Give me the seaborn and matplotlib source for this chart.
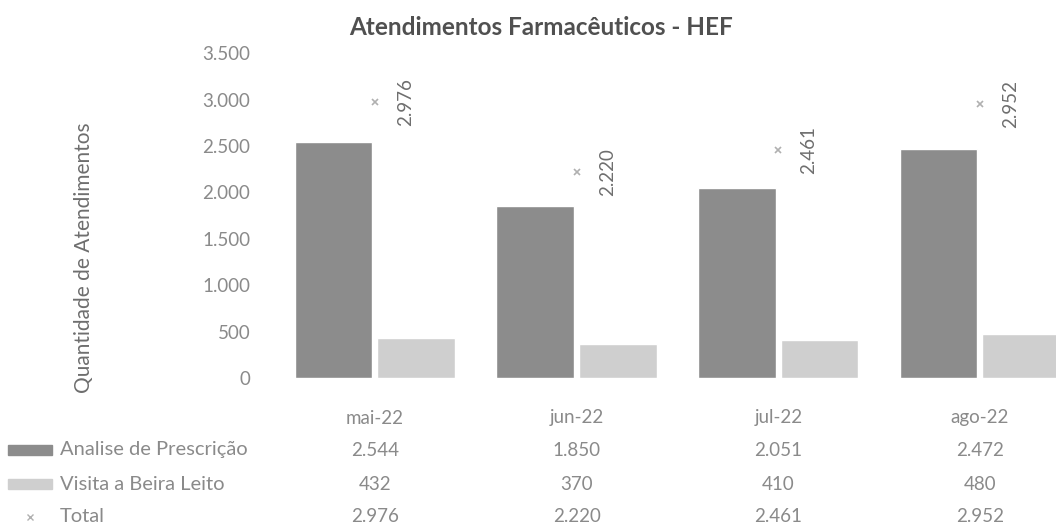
import matplotlib.pyplot as plt
import matplotlib.patches as mpatches
import matplotlib.transforms as mtransforms
import pandas as pd
import seaborn as sns

# Dados do gráfico
meses = ['mai-22', 'jun-22', 'jul-22', 'ago-22']
analise_prescricao = [2544, 1850, 2051, 2472]
visita_beira_leito = [432, 370, 410, 480]
total = [2976, 2220, 2461, 2952]
series = ['Analise de Prescrição', 'Visita a Beira Leito']
yticks = [0, 500, 1000, 1500, 2000, 2500, 3000, 3500]

cor_analise = '#8c8c8c'
cor_visita = '#cfcfcf'
cor_texto = '#8a8a8a'


def fmt(v):
    return f'{v:,}'.replace(',', '.')


sns.set_style('white')
plt.rcParams['font.family'] = ['Lato', 'DejaVu Sans']

df = pd.DataFrame({
    'mes': meses * 2,
    'serie': [series[0]] * 4 + [series[1]] * 4,
    'valor': analise_prescricao + visita_beira_leito,
})

fig = plt.figure(figsize=(10.56, 5.31), dpi=100)
ax = fig.add_axes([0.2595, 0.288, 0.764, 0.612])

sns.barplot(data=df, x='mes', y='valor', hue='serie', hue_order=series,
            palette=[cor_analise, cor_visita], width=0.82, gap=0.06,
            legend=False, ax=ax)
sns.pointplot(x=meses, y=total, linestyle='none', marker='x',
              markersize=4, markeredgewidth=1.2, color='#b0b0b0', ax=ax)

for i, v in enumerate(total):
    ax.annotate(fmt(v), (i, v), xytext=(22, 0),
                textcoords='offset points', rotation=90, ha='center',
                va='center', fontsize=13.5, color='#6e6e6e')

ax.set_ylim(0, 3500)
ax.set_xlim(-0.5, 3.5)
ax.set_yticks(yticks)
ax.set_yticklabels([fmt(t) for t in yticks], fontsize=13.5, color=cor_texto)
ax.tick_params(axis='y', length=0, pad=17)
ax.set_xticks([])
ax.set_xlabel('')
ax.set_ylabel('')
sns.despine(ax=ax, left=True, bottom=True)

fig.text(0.080, 0.515, 'Quantidade de Atendimentos', rotation=90,
         ha='center', va='center', fontsize=15, color='#6e6e6e')
fig.text(0.512, 0.949, 'Atendimentos Farmacêuticos - HEF', ha='center',
         va='center', fontsize=17.5, fontweight='bold', color='#505050')

# Tabela de dados (colunas alinhadas com as categorias)
trans = mtransforms.blended_transform_factory(ax.transData, fig.transFigure)
row_y = [418, 450, 484, 517]
for j, mes in enumerate(meses):
    ax.text(j, 1 - row_y[0] / 531, mes, transform=trans, ha='center',
            va='center', fontsize=13.5, color=cor_texto, clip_on=False)
linhas = [analise_prescricao, visita_beira_leito, total]
for r, vals in enumerate(linhas):
    for j, v in enumerate(vals):
        ax.text(j, 1 - row_y[r + 1] / 531, fmt(v), transform=trans,
                ha='center', va='center', fontsize=13.5, color=cor_texto,
                clip_on=False)

nomes = series + ['Total']
for r, nome in enumerate(nomes):
    fig.text(60 / 1056, 1 - row_y[r + 1] / 531, nome, ha='left',
             va='center', fontsize=14.5, color=cor_texto)

for r, cor in enumerate([cor_analise, cor_visita]):
    y = 1 - row_y[r + 1] / 531
    fig.patches.append(mpatches.Rectangle(
        (8 / 1056, y - 0.009), 44 / 1056, 0.018, color=cor,
        transform=fig.transFigure, figure=fig))
fig.lines.append(plt.Line2D([30 / 1056], [1 - row_y[3] / 531], marker='x',
                            markersize=4, color='#b0b0b0',
                            transform=fig.transFigure, figure=fig))

fig.savefig('out.png', dpi=100)
